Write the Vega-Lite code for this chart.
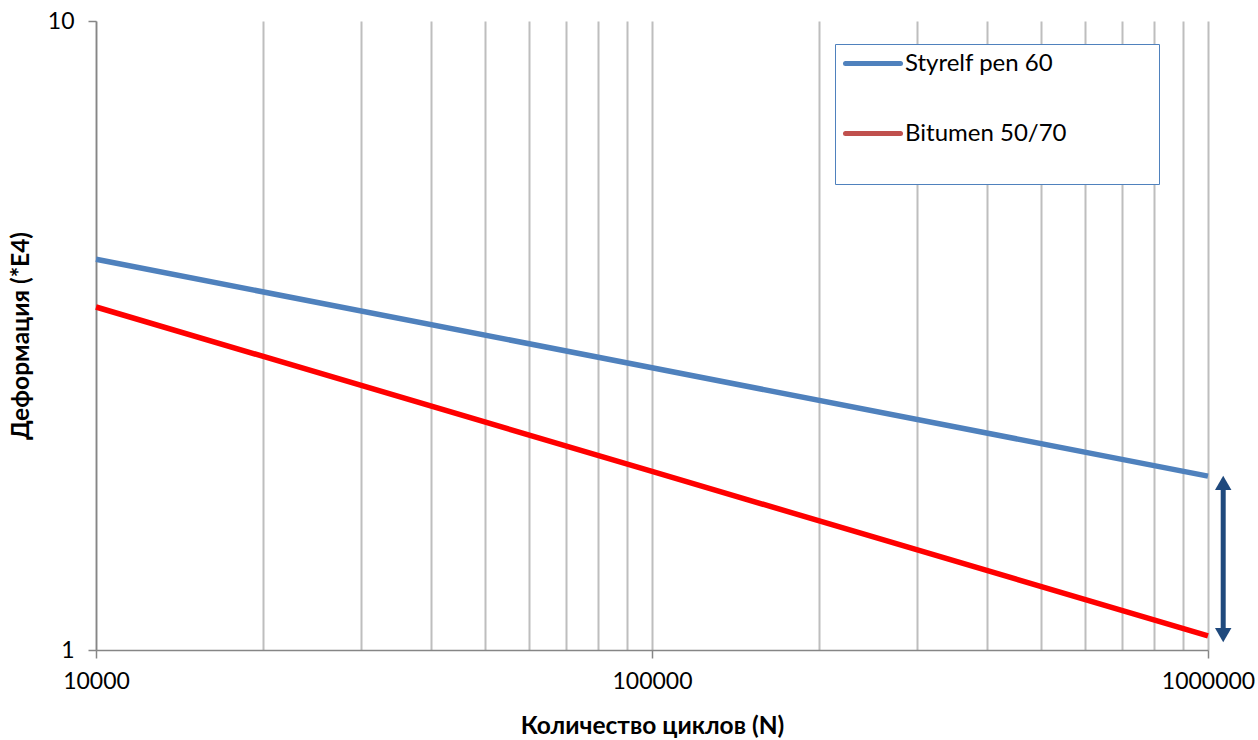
{
  "$schema": "https://vega.github.io/schema/vega-lite/v6.json",
  "width": 1112,
  "height": 629,
  "autosize": "none",
  "padding": {"left": 96, "top": 21, "right": 50, "bottom": 90},
  "background": "white",
  "config": {"view": {"stroke": null}, "font": "Lato, 'Noto Sans', sans-serif"},
  "datasets": {
    "curves": [
      {"N": 10000, "D": 4.18, "series": "Styrelf pen 60"},
      {"N": 100000, "D": 2.81, "series": "Styrelf pen 60"},
      {"N": 1000000, "D": 1.89, "series": "Styrelf pen 60"},
      {"N": 10000, "D": 3.51, "series": "Bitumen 50/70"},
      {"N": 100000, "D": 1.923, "series": "Bitumen 50/70"},
      {"N": 1000000, "D": 1.053, "series": "Bitumen 50/70"}
    ],
    "arrow": [{"N": 1065000, "top": 1.843, "bottom": 1.056}]
  },
  "layer": [
    {
      "data": {"name": "curves"},
      "mark": {"type": "line", "strokeWidth": 5.5, "opacity": 0, "clip": false},
      "encoding": {
        "x": {
          "field": "N", "type": "quantitative",
          "scale": {"type": "log", "domain": [10000, 1000000], "nice": false},
          "axis": {
            "values": [10000, 20000, 30000, 40000, 50000, 60000, 70000, 80000, 90000, 100000, 200000, 300000, 400000, 500000, 600000, 700000, 800000, 900000, 1000000],
            "format": "d",
            "labelExpr": "abs(log(datum.value)/LN10 - round(log(datum.value)/LN10)) < 0.001 ? datum.label : ''",
            "labelOverlap": false,
            "labelFlush": false,
            "grid": true, "gridColor": "#BEBEBE", "gridWidth": 2,
            "domainColor": "#868686", "domainWidth": 1.5,
            "tickColor": {"condition": {"test": "abs(log(datum.value)/LN10 - round(log(datum.value)/LN10)) < 0.001", "value": "#868686"}, "value": "transparent"},
            "tickSize": 8, "tickWidth": 1.5,
            "labelFontSize": 23, "labelColor": "black", "labelPadding": 12,
            "title": "Количество циклов (N)",
            "titleFontSize": 24.5, "titleFontWeight": "bold", "titleColor": "black", "titlePadding": 21
          }
        },
        "y": {
          "field": "D", "type": "quantitative",
          "scale": {"type": "log", "domain": [1, 10], "nice": false},
          "axis": {
            "values": [1, 10],
            "format": "d",
            "grid": false,
            "domainColor": "#868686", "domainWidth": 1.5,
            "tickColor": "#868686", "tickSize": 8, "tickWidth": 1.5,
            "labelFontSize": 23, "labelColor": "black", "labelPadding": 14,
            "title": "Деформация (*E4)",
            "titleFontSize": 24.5, "titleFontWeight": "bold", "titleColor": "black", "titlePadding": 14
          }
        },
        "color": {
          "field": "series", "type": "nominal",
          "scale": {"domain": ["Styrelf pen 60", "Bitumen 50/70"], "range": ["#4F81BD", "#C0504D"]},
          "legend": {
            "title": " ",
            "titleOrient": "bottom",
            "titleFontSize": 20,
            "titlePadding": 11,
            "orient": "none",
            "legendX": 739,
            "legendY": 23,
            "symbolType": "M-0.9,0H4.6M28.7,0",
            "symbolSize": 400,
            "symbolStrokeWidth": 5,
            "symbolOpacity": 1,
            "symbolFillColor": "transparent",
            "labelOffset": 38,
            "labelFontSize": 24,
            "labelColor": "black",
            "labelLimit": 400,
            "padding": 7,
            "rowPadding": 45,
            "strokeColor": "#4F81BD",
            "fillColor": "white",
            "encode": {
              "symbols": {
                "update": {
                  "strokeCap": {"value": "round"},
                  "opacity": {"value": 1}
                }
              }
            }
          }
        }
      }
    },
    {
      "data": {"name": "curves"},
      "mark": {"type": "line", "strokeWidth": 5.5, "clip": false},
      "encoding": {
        "x": {"field": "N", "type": "quantitative"},
        "y": {"field": "D", "type": "quantitative"},
        "stroke": {
          "field": "series", "type": "nominal",
          "scale": {"domain": ["Styrelf pen 60", "Bitumen 50/70"], "range": ["#4F81BD", "#FF0000"]},
          "legend": null
        }
      }
    },
    {
      "data": {"name": "arrow"},
      "mark": {"type": "rule", "color": "#1F497D", "strokeWidth": 5, "clip": false},
      "encoding": {
        "x": {"field": "N", "type": "quantitative"},
        "y": {"field": "top", "type": "quantitative"},
        "y2": {"field": "bottom"}
      }
    },
    {
      "data": {"name": "arrow"},
      "mark": {"type": "point", "shape": "triangle-up", "filled": true, "color": "#1F497D", "size": 270, "opacity": 1, "clip": false},
      "encoding": {
        "x": {"field": "N", "type": "quantitative"},
        "y": {"field": "top", "type": "quantitative"}
      }
    },
    {
      "data": {"name": "arrow"},
      "mark": {"type": "point", "shape": "triangle-down", "filled": true, "color": "#1F497D", "size": 270, "opacity": 1, "clip": false},
      "encoding": {
        "x": {"field": "N", "type": "quantitative"},
        "y": {"field": "bottom", "type": "quantitative"}
      }
    }
  ]
}
